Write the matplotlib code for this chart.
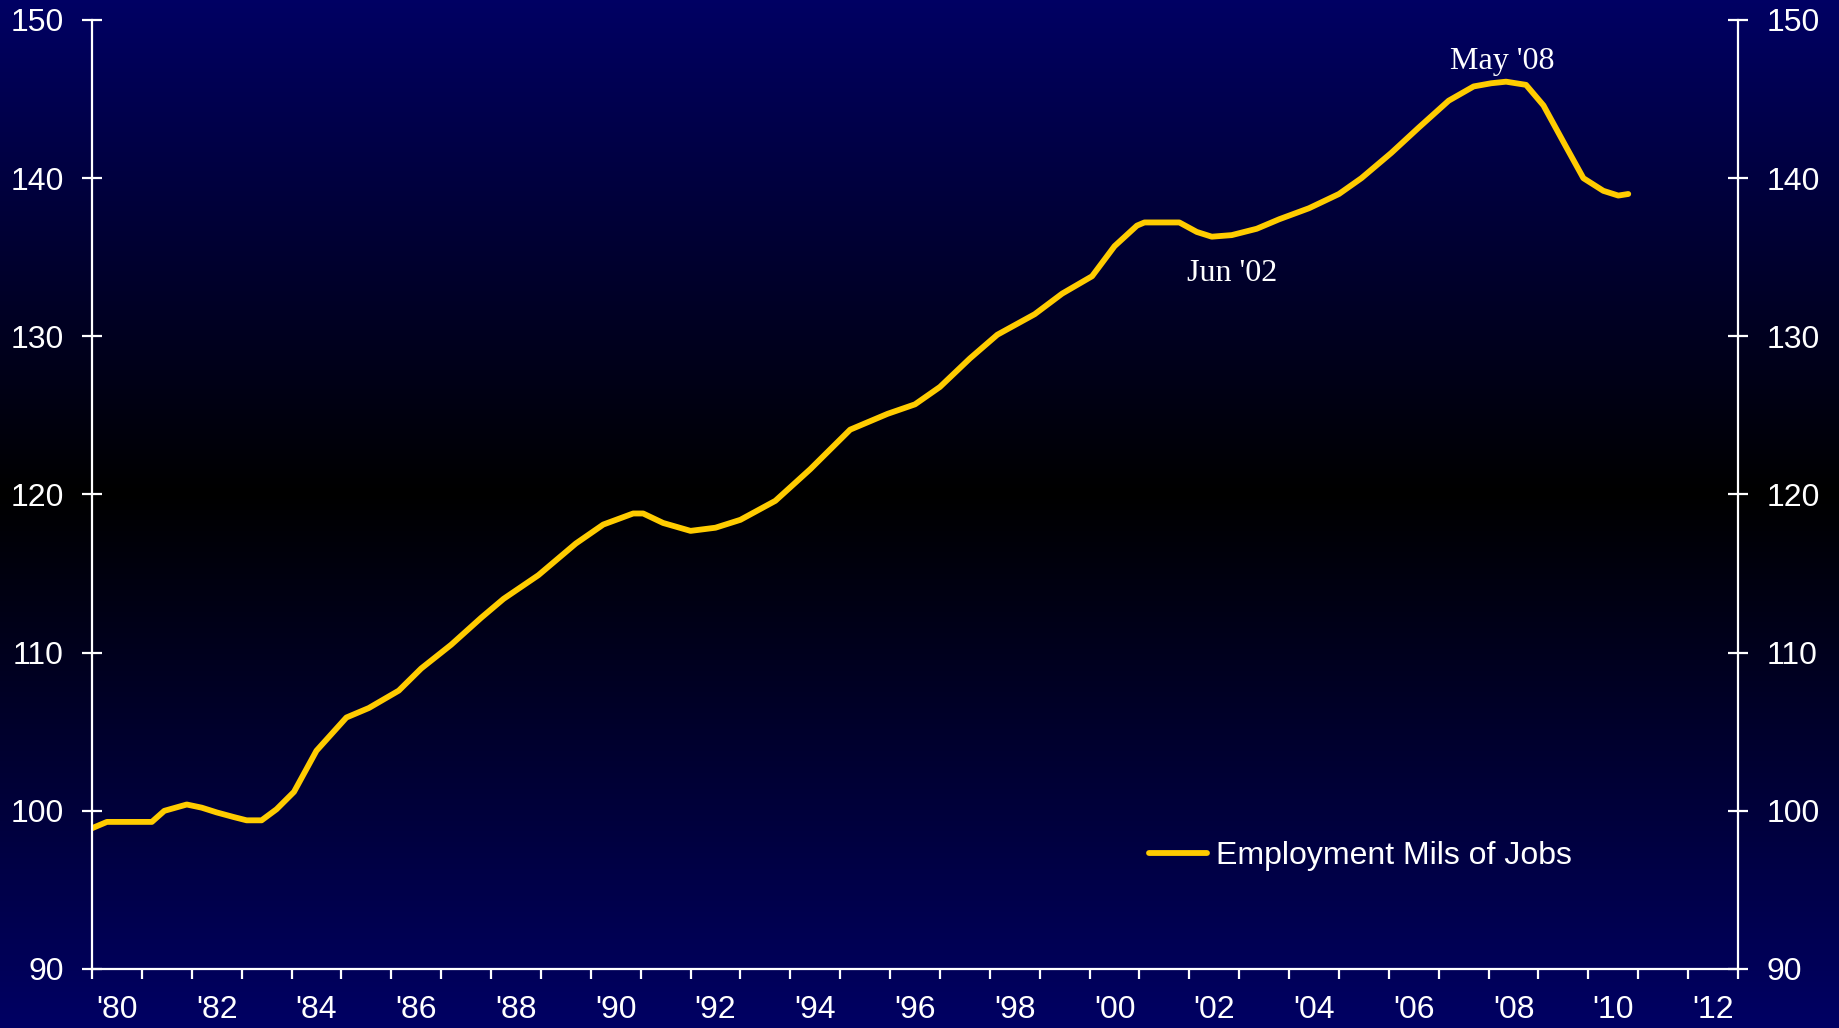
import matplotlib
matplotlib.use('Agg')
import matplotlib.pyplot as plt
import numpy as np

# employment, millions of jobs
years = [1980.0, 1980.3, 1981.2, 1981.45, 1981.9, 1982.2, 1982.5, 1982.85, 1983.1,
         1983.4, 1983.7, 1984.05, 1984.5, 1985.1, 1985.55, 1986.15, 1986.6, 1987.2,
         1987.8, 1988.25, 1988.95, 1989.7, 1990.25, 1990.85, 1991.05, 1991.45, 1992.0,
         1992.5, 1993.0, 1993.7, 1994.4, 1995.2, 1995.95, 1996.5, 1997.0, 1997.6,
         1998.15, 1998.9, 1999.45, 2000.05, 2000.5, 2000.95, 2001.1, 2001.8, 2002.15,
         2002.45, 2002.85, 2003.35, 2003.8, 2004.4, 2005.0, 2005.45, 2006.05, 2006.6,
         2007.2, 2007.7, 2008.05, 2008.35, 2008.75, 2009.1, 2009.55, 2009.9, 2010.3,
         2010.6, 2010.8]
jobs = [98.9, 99.3, 99.3, 100.0, 100.4, 100.2, 99.9, 99.6, 99.4,
        99.4, 100.1, 101.2, 103.8, 105.9, 106.5, 107.6, 109.0, 110.5,
        112.2, 113.4, 114.9, 116.9, 118.1, 118.8, 118.8, 118.2, 117.7,
        117.9, 118.4, 119.6, 121.6, 124.1, 125.1, 125.7, 126.8, 128.6,
        130.1, 131.4, 132.7, 133.8, 135.7, 137.0, 137.2, 137.2, 136.6,
        136.3, 136.4, 136.8, 137.4, 138.1, 139.0, 140.0, 141.6, 143.2,
        144.9, 145.8, 146.0, 146.1, 145.9, 144.6, 142.0, 140.0, 139.2,
        138.9, 139.0]

label_years = list(range(1980, 2013, 2))
label_text = ["'%02d" % (y % 100) for y in label_years]

fig = plt.figure(figsize=(18.4, 10.28), dpi=100)

# background gradient: navy at top and bottom, black near the middle
bg = fig.add_axes([0, 0, 1, 1], zorder=-10)
h = np.linspace(0, 1, 512)
mid = 0.48
dist = np.where(h < mid, (mid - h) / mid, (h - mid) / (1 - mid))
grad = np.zeros((512, 1, 3))
grad[:, 0, 2] = 0.39 * dist
bg.imshow(grad, aspect='auto', extent=[0, 1, 1, 0])
bg.axis('off')

ax = fig.add_axes([92 / 1840, 1 - 969 / 1028, (1738 - 92) / 1840, (969 - 20) / 1028])
ax.patch.set_alpha(0)

ax.plot(years, jobs, color='#FFCC00', lw=4.2, solid_capstyle='round',
        solid_joinstyle='round', label='Employment Mils of Jobs')

ax.set_xlim(1980, 2013)
ax.set_ylim(90, 150)

for s in ['left', 'right', 'bottom']:
    ax.spines[s].set_color('white')
    ax.spines[s].set_linewidth(1.6)
ax.spines['top'].set_visible(False)

tick_font = 'Liberation Sans'
ax.set_yticks(range(90, 151, 10))
ax.tick_params(axis='y', which='major', direction='inout', length=15, width=1.6,
               colors='white', labelsize=23, pad=13, left=True, right=True,
               labelleft=True, labelright=True)

ax.set_xticks(range(1980, 2014))
ax.set_xticklabels([])
ax.set_xticks([y + 0.5 for y in label_years], minor=True)
ax.set_xticklabels(label_text, minor=True)
ax.tick_params(axis='x', which='major', direction='out', length=7, width=1.6, colors='white')
ax.tick_params(axis='x', which='minor', length=0, colors='white', labelsize=23, pad=19)

for lab in ax.get_xticklabels(minor=True):
    lab.set_fontfamily(tick_font)
for t in ax.yaxis.get_major_ticks():
    t.label1.set_fontfamily(tick_font)
    t.label2.set_fontfamily(tick_font)

ax.text(2008.28, 147.4, "May '08", color='white', fontsize=23,
        family='Liberation Serif', ha='center', va='center')
ax.text(2002.85, 134.0, "Jun '02", color='white', fontsize=23,
        family='Liberation Serif', ha='center', va='center')

leg = ax.legend(loc='center left', bbox_to_anchor=(1149 / 1840, 1 - 856 / 1028),
                bbox_transform=fig.transFigure, frameon=False, borderpad=0,
                borderaxespad=0, handlelength=1.8, handletextpad=0.3,
                prop={'family': tick_font, 'size': 23})
for t in leg.get_texts():
    t.set_color('white')

fig.savefig('out.png', dpi=100)
